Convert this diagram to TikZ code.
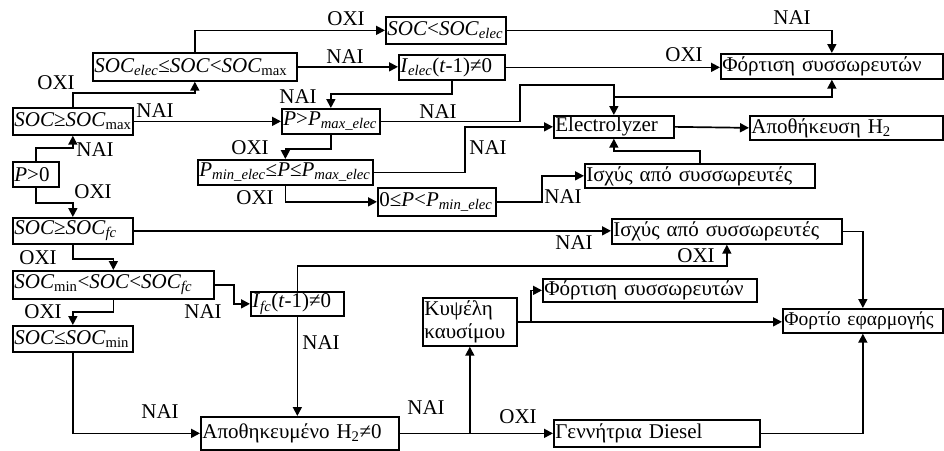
\documentclass[tikz,border=0pt]{standalone}
\usepackage{fontspec}
\setmainfont{Liberation Serif}
\usetikzlibrary{arrows.meta}
\begin{document}
\begin{tikzpicture}[x=1pt,y=-1pt,
box/.style={draw,line width=1.7pt,anchor=north west,inner xsep=1.5pt,inner ysep=0pt,align=left,font=\fontsize{21}{23}\selectfont},
lbl/.style={inner sep=0pt,font=\fontsize{21}{23}\selectfont},
arr/.style={line width=1.7pt,-{Triangle[length=9pt,width=9pt]}}]
\useasboundingbox (0,0) rectangle (944,450);

\node[box,text width=117pt,minimum height=27pt] (socmax) at (12,107) {\textit{SOC}≥\textit{SOC}\textsubscript{max}};
\node[box,text width=43pt,minimum height=25pt] (p0) at (12,161) {\textit{P}>0};
\node[box,text width=201pt,minimum height=28pt] (socelec) at (92,52) {\textit{SOC}\textsubscript{\textit{elec}}≤\textit{SOC}<\textit{SOC}\textsubscript{max}};
\node[box,text width=117pt,minimum height=27pt] (socsocelec) at (385,16) {\textit{SOC}<\textit{SOC}\textsubscript{\textit{elec}}};
\node[box,text width=103pt,minimum height=25pt] (ielec) at (398,54) {\textit{I}\textsubscript{\textit{elec}}(\textit{t}-1)≠0};
\node[box,text width=219pt,minimum height=25pt] (charge1) at (720,53) {Φόρτιση συσσωρευτών};
\node[box,text width=95pt,minimum height=25pt] (pmax) at (281,108) {\textit{P}>\textit{P}\textsubscript{\textit{max\_elec}}};
\node[box,text width=172pt,minimum height=25pt] (pmin) at (197,159) {\textit{P}\textsubscript{\textit{min\_elec}}≤\textit{P}≤\textit{P}\textsubscript{\textit{max\_elec}}};
\node[box,text width=115pt,minimum height=28pt] (p0min) at (377,187) {0≤\textit{P}<\textit{P}\textsubscript{\textit{min\_elec}}};
\node[box,text width=117pt,minimum height=22pt] (elec) at (553,115) {Electrolyzer};
\node[box,text width=190pt,minimum height=24pt] (store) at (749,115) {Αποθήκευση H\textsubscript{2}};
\node[box,text width=227pt,minimum height=24pt] (batt1) at (584,163) {Ισχύς από συσσωρευτές};
\node[box,text width=117pt,minimum height=26pt] (socfc) at (12,217) {\textit{SOC}≥\textit{SOC}\textsubscript{\textit{fc}}};
\node[box,text width=227pt,minimum height=25pt] (batt2) at (611,218) {Ισχύς από συσσωρευτές};
\node[box,text width=198pt,minimum height=28pt] (socmin) at (12,270) {\textit{SOC}\textsubscript{min}<\textit{SOC}<\textit{SOC}\textsubscript{\textit{fc}}};
\node[box,text width=90pt,minimum height=24pt] (ifc) at (250,291) {\textit{I}\textsubscript{\textit{fc}}(\textit{t}-1)≠0};
\node[box,text width=117pt,minimum height=26pt] (socle) at (12,325) {\textit{SOC}≤\textit{SOC}\textsubscript{min}};
\node[box,text width=195pt,minimum height=33pt] (h2) at (200,416) {Αποθηκευμένο H\textsubscript{2}≠0};
\node[box,text width=91pt,minimum height=48pt] (fc) at (422,297) {Κυψέλη\\καυσίμου};
\node[box,text width=211pt,minimum height=23pt] (charge2) at (542,278) {Φόρτιση συσσωρευτών};
\node[box,text width=157pt,minimum height=24pt,font=\fontsize{19.5}{21}\selectfont] (load) at (782,308) {\mbox{Φορτίο εφαρμογής}};
\node[box,text width=203pt,minimum height=27pt] (diesel) at (553,419) {Γεννήτρια Diesel};

\path (elec.north) ++(0,-18) coordinate (jel);
\path (fc.south |- h2.east) coordinate (jfc);
\path (fc.east) ++(13,0) coordinate (jch);

\draw[arr] (p0.north) -- ++(0,-13) -| (socmax.south);
\draw[arr] (p0.south) -- ++(0,15) -| (socfc.north);
\draw[arr] (socmax.north) -- ++(0,-14) -| (socelec.south);
\draw[arr] (socmax.east) -- (socmax.east -| pmax.west);
\draw[arr] (socelec.north) |- (socsocelec.west);
\draw[arr] (socelec.east) -- (socelec.east -| ielec.west);
\draw[arr] (socsocelec.east) -| (charge1.north);
\draw[arr] (ielec.east) -- (ielec.east -| charge1.west);
\draw[arr] (ielec.south) -- ++(0,13) -| (pmax.north);
\draw[arr] (pmax.east) -| (520,85) -| (elec.north);
\draw[arr] (jel) -| (charge1.south);
\draw[arr] (pmax.south) -- ++(0,14) -| (pmin.north);
\draw[arr] (pmin.east) -- ++(91,0) |- (elec.west);
\draw[arr] (pmin.south) |- (p0min.west);
\draw[arr] (p0min.east) -- ++(45,0) |- (batt1.west);
\draw[arr] (batt1.north) -- ++(0,-12) -| (elec.south);
\draw[arr] (elec.east) -- (store.west);
\draw[arr] (socfc.east) -- (socfc.east -| batt2.west);
\draw[arr] (socfc.south) -- ++(0,14) -| (socmin.north);
\draw[arr] (socmin.east) -- ++(19,0) |- (ifc.west);
\draw[arr] (socmin.south) -- ++(0,12) -| (socle.north);
\draw[arr] (ifc.north) -- ++(0,-25) -| (batt2.south);
\draw[arr] (ifc.south) -- (ifc.south |- h2.north);
\draw[arr] (socle.south) |- (h2.west);
\draw[arr] (h2.east) -- (diesel.west);
\draw[arr] (jfc) -- (fc.south);
\draw[arr] (fc.east) -- (fc.east -| load.west);
\draw[arr] (jch) |- (charge2.west);
\draw[arr] (batt2.east) -| (load.north);
\draw[arr] (diesel.east) -| (load.south);

\foreach \x/\y/\t [count=\i] in {56/83/ΟΧΙ, 155/111/ΝΑΙ, 95/150/ΝΑΙ, 93/192/ΟΧΙ,
  346/19/ΟΧΙ, 345/57/ΝΑΙ, 792/18/ΝΑΙ, 684/55/ΟΧΙ, 298/97/ΝΑΙ, 438/112/ΝΑΙ,
  250/148/ΟΧΙ, 488/148/ΝΑΙ, 255/198/ΟΧΙ, 563/197/ΝΑΙ, 574/243/ΝΑΙ, 696/256/ΟΧΙ,
  38/258/ΟΧΙ, 203/312/ΝΑΙ, 43/312/ΟΧΙ, 321/343/ΝΑΙ, 160/412/ΝΑΙ, 426/408/ΝΑΙ, 518/417/ΟΧΙ}
  \node[lbl] (lab\i) at (\x,\y) {\t};

\end{tikzpicture}
\end{document}
